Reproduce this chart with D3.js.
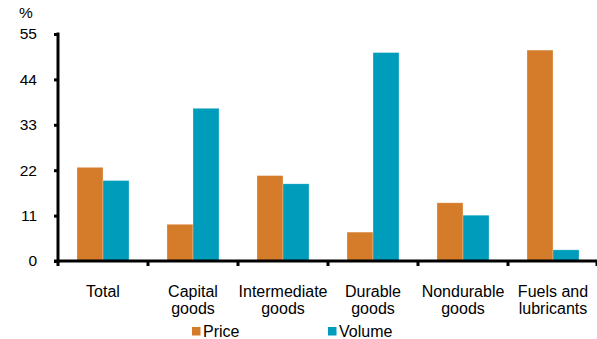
<!DOCTYPE html>
<html>
<head>
<meta charset="utf-8">
<script src="https://cdn.jsdelivr.net/npm/d3@7"></script>
<style>
  html, body { margin: 0; padding: 0; background: #fff; }
  svg { display: block; font-family: Arial, "Liberation Sans", sans-serif; }
</style>
</head>
<body>
<svg id="chart" width="597" height="339"></svg>
<script>
// Categories (each may wrap onto two lines)
const categories = [
  ["Total"],
  ["Capital", "goods"],
  ["Intermediate", "goods"],
  ["Durable", "goods"],
  ["Nondurable", "goods"],
  ["Fuels and", "lubricants"]
];
const seriesNames = ["Price", "Volume"];
const priceValues  = [22.7, 8.9, 20.7, 7.0, 14.1, 51.1];
const volumeValues = [19.5, 37.0, 18.7, 50.5, 11.1, 2.7];
const yTicks = [0, 11, 22, 33, 44, 55];
const colors = ["#D57C2B", "#009CBB"];

const svg = d3.select("#chart");
const x0 = 58, x1 = 598, yTop = 34, yBase = 261;

const keys = categories.map((c, i) => i);
const x = d3.scaleBand().domain(keys).range([x0, x1]).paddingInner(0).paddingOuter(0);
const xInner = d3.scaleBand().domain(seriesNames)
  .range([0, x.bandwidth()]).paddingInner(0).paddingOuter(0.73);
const y = d3.scaleLinear().domain([0, 55]).range([yBase, yTop]);

const rows = keys.map(i => ({ i, vals: [priceValues[i], volumeValues[i]] }));

// Bars
const g = svg.append("g");
g.selectAll("g.cat").data(rows).join("g")
  .attr("class", "cat")
  .attr("transform", d => `translate(${x(d.i)},0)`)
  .selectAll("rect").data(d => d.vals.map((v, k) => ({ v, k })))
  .join("rect")
  .attr("x", d => xInner(seriesNames[d.k]))
  .attr("width", xInner.bandwidth())
  .attr("y", d => y(d.v))
  .attr("height", d => y(0) - y(d.v))
  .attr("fill", d => colors[d.k])
  .attr("stroke", "#ffffff")
  .attr("stroke-opacity", 0.45)
  .attr("stroke-width", 0.6);

// Y axis
const yAxis = d3.axisLeft(y).tickValues(yTicks).tickSize(4).tickPadding(17);
const ya = svg.append("g").attr("transform", `translate(${x0},0)`).call(yAxis);
ya.select(".domain").remove();
ya.selectAll(".tick line").attr("stroke", "#000").attr("stroke-width", 3);
ya.selectAll(".tick text")
  .attr("font-size", 15.5).attr("fill", "#000")
  .attr("font-family", "Arial, 'Liberation Sans', sans-serif");
svg.append("line")
  .attr("x1", x0).attr("x2", x0)
  .attr("y1", yTop - 1.5).attr("y2", yBase + 1.5)
  .attr("stroke", "#000").attr("stroke-width", 3);

// X axis line and boundary ticks
svg.append("line")
  .attr("x1", x0 - 4).attr("x2", x1)
  .attr("y1", yBase).attr("y2", yBase)
  .attr("stroke", "#000").attr("stroke-width", 3);
const bounds = keys.map(i => x(i)).concat([x1 - 1]);
svg.selectAll("line.xt").data(bounds).join("line")
  .attr("class", "xt")
  .attr("x1", d => d).attr("x2", d => d)
  .attr("y1", yBase).attr("y2", yBase + 5)
  .attr("stroke", "#000").attr("stroke-width", 3);

// Category labels
svg.selectAll("text.cat").data(rows).join("text")
  .attr("class", "cat")
  .attr("text-anchor", "middle")
  .attr("font-size", 16)
  .attr("fill", "#000")
  .each(function (d) {
    const t = d3.select(this);
    categories[d.i].forEach((line, li) => {
      t.append("tspan")
        .attr("x", x(d.i) + x.bandwidth() / 2)
        .attr("y", 297 + li * 17)
        .text(line);
    });
  });

// Unit label
svg.append("text").attr("x", 19).attr("y", 18)
  .attr("font-size", 15.5).attr("fill", "#000").text("%");

// Legend
const legendX = [192, 328];
const lg = svg.selectAll("g.leg").data(seriesNames).join("g")
  .attr("class", "leg")
  .attr("transform", (d, k) => `translate(${legendX[k]},0)`);
lg.append("rect").attr("x", 0).attr("y", 327).attr("width", 8.5).attr("height", 8.5)
  .attr("fill", (d, k) => colors[k]);
lg.append("text").attr("x", 11).attr("y", 337)
  .attr("font-size", 16).attr("fill", "#000").text(d => d);
</script>
</body>
</html>
